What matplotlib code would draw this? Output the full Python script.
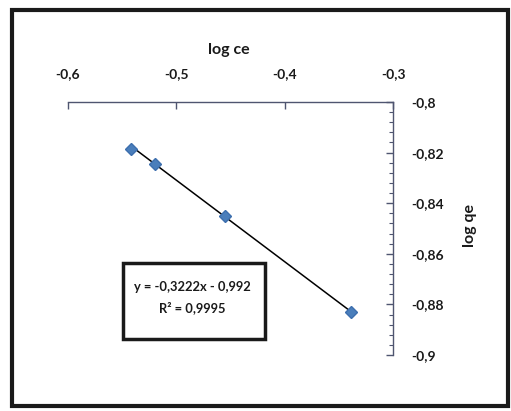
import matplotlib
matplotlib.use("Agg")
import matplotlib.pyplot as plt
from matplotlib.patches import Rectangle
from matplotlib.ticker import FixedLocator, MultipleLocator
import numpy as np

# Freundlich isotherm data (log ce vs log qe)
log_ce = [-0.542, -0.520, -0.455, -0.339]
log_qe = [-0.8185, -0.8245, -0.8450, -0.8830]

# Linear trend line reported on the chart
slope = -0.3222
intercept = -0.992
r_squared = "0,9995"

x_ticks = [-0.6, -0.5, -0.4, -0.3]
x_tick_labels = ["-0,6", "-0,5", "-0,4", "-0,3"]
y_ticks = [-0.8, -0.82, -0.84, -0.86, -0.88, -0.9]
y_tick_labels = ["-0,8", "-0,82", "-0,84", "-0,86", "-0,88", "-0,9"]

plt.rcParams["font.family"] = ["Lato", "DejaVu Sans"]

W, H = 511, 411
fig = plt.figure(figsize=(W / 100, H / 100), dpi=100)
fig.patch.set_facecolor("white")

def fx(px):
    return px / W

def fy(py):
    return 1 - py / H

ax = fig.add_axes([fx(68), fy(355), fx(393) - fx(68), fy(102) - fy(355)])
ax.set_facecolor("none")

ax.set_xlim(-0.6, -0.3)
ax.set_ylim(-0.9, -0.8)

axis_color = "#4f5570"
for side in ("left", "bottom"):
    ax.spines[side].set_visible(False)
for side in ("top", "right"):
    ax.spines[side].set_color(axis_color)
    ax.spines[side].set_linewidth(1.0)

ax.xaxis.set_ticks_position("top")
ax.yaxis.set_ticks_position("right")
ax.xaxis.set_major_locator(FixedLocator(x_ticks))
ax.set_xticklabels(x_tick_labels)
ax.yaxis.set_major_locator(FixedLocator(y_ticks))
ax.set_yticklabels(y_tick_labels)
ax.yaxis.set_minor_locator(MultipleLocator(0.004))

ax.tick_params(axis="x", which="major", direction="in", length=5, width=1,
               color=axis_color, pad=16, labelsize=10)
ax.tick_params(axis="y", which="major", direction="in", length=5, width=1,
               color=axis_color, pad=13, labelsize=10)
ax.tick_params(axis="y", which="minor", direction="in", length=3, width=0.8,
               color=axis_color)
for lab in ax.get_xticklabels() + ax.get_yticklabels():
    lab.set_fontweight("bold")
    lab.set_color("#1a1a1a")

# Trend line over the data range
xs = np.array([min(log_ce), max(log_ce)])
ax.plot(xs, slope * xs + intercept, color="black", lw=1.1, zorder=2)

# Data points
ax.plot(log_ce, log_qe, linestyle="none", marker="D", markersize=6.5,
        color="#4a7ebb", markeredgecolor="#3d6fae", zorder=3)

# Axis titles
fig.text(fx(229), fy(50), "log ce", ha="center", va="center",
         fontsize=11.5, fontweight="bold", color="#1a1a1a")
fig.text(fx(470), fy(225), "log qe", ha="center", va="center",
         rotation=90, fontsize=11.5, fontweight="bold", color="#1a1a1a")

# Equation box
fig.patches.append(Rectangle((fx(123), fy(339)), fx(265) - fx(123), fy(263) - fy(339),
                             transform=fig.transFigure, fill=False,
                             edgecolor="#1a1a1a", linewidth=2.5))
eq = f"y = {slope:.4f}x - {abs(intercept):.3f}".replace(".", ",")
fig.text(fx(192), fy(287), eq, ha="center", va="center",
         fontsize=9.3, fontweight="bold", color="#1a1a1a")
fig.text(fx(192), fy(308), f"R² = {r_squared}", ha="center", va="center",
         fontsize=9.3, fontweight="bold", color="#1a1a1a")

# Outer chart frame
fig.patches.append(Rectangle((fx(12), fy(406)), fx(508) - fx(12), fy(10) - fy(406),
                             transform=fig.transFigure, fill=False,
                             edgecolor="#1a1a1a", linewidth=3))

fig.savefig("out.png", dpi=100)
